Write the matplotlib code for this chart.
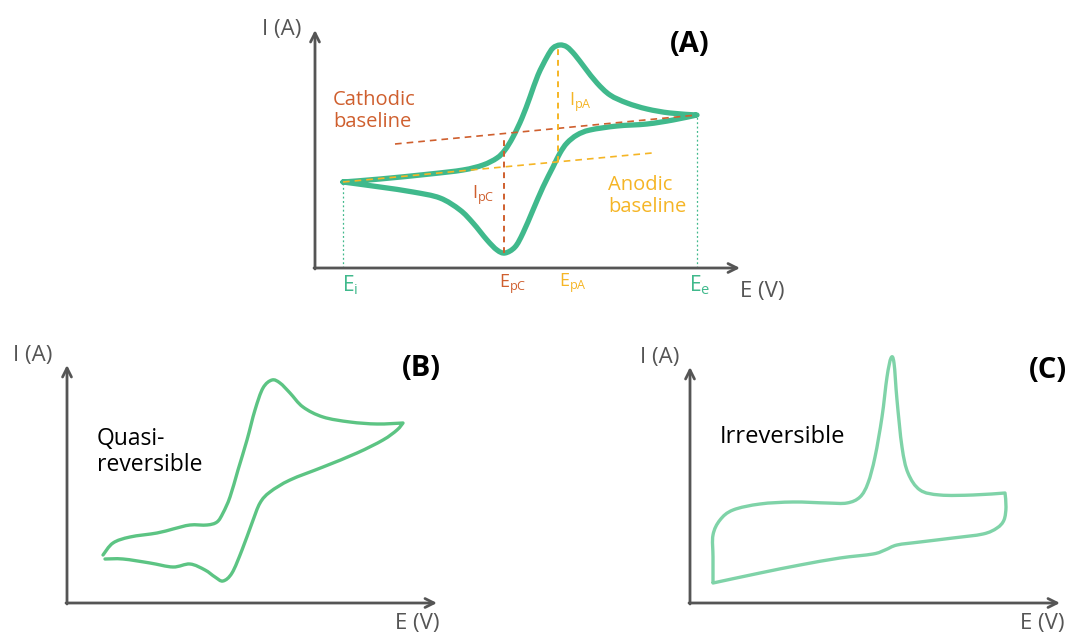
import matplotlib.pyplot as plt
from matplotlib.path import Path
from matplotlib.patches import PathPatch

plt.rcParams['font.family'] = ['Open Sans', 'DejaVu Sans']

# ---------- data (E / I in arbitrary units) ----------
# panel A: reversible CV
a_fwd_E = [28, 65, 115, 148, 168, 182, 190, 198, 207, 215, 223, 232, 238, 245,
           252, 260, 270, 282, 295, 312, 332, 355, 382]
a_fwd_I = [86, 89, 94, 98, 103, 110, 118, 131, 150, 171, 193, 211, 220, 223,
           221, 213, 200, 185, 173, 165, 159, 155, 153]
a_rev_E = [358, 332, 302, 275, 262, 252, 245, 238, 228, 218, 208, 200, 190,
           182, 172, 158, 145, 125, 98, 65, 28]
a_rev_I = [148, 144, 142, 138, 133, 125, 115, 101, 81, 58, 35, 21, 15,
           18, 28, 45, 58, 70, 76, 81, 86]

cath_base_E = [80, 382]
cath_base_I = [124, 153]
anod_base_E = [28, 337]
anod_base_I = [86, 115]

E_i, E_e = 28, 382
E_pC, I_pC_low, I_pC_high = 189, 15, 132
E_pA, I_pA_low, I_pA_high = 243, 106, 223

# panel B: quasi-reversible CV
b_fwd_E = [36, 46, 63, 90, 106, 123, 140, 150, 156, 163, 171, 180, 188, 196, 205,
           213, 223, 236, 256, 283, 310, 336]
b_fwd_I = [48, 60, 66, 70, 74, 78, 78, 81, 90, 106, 133, 163, 193, 215, 223,
           220, 210, 196, 186, 181, 179, 180]
b_rev_E = [330, 316, 290, 256, 223, 203, 193, 185, 175, 165, 156, 148, 138,
           123, 106, 83, 56, 38]
b_rev_I = [173, 163, 150, 136, 123, 111, 100, 80, 53, 30, 22, 26, 33,
           39, 36, 40, 44, 44]

# panel C: irreversible CV
c_fwd_E = [23, 23, 23, 30, 43, 70, 103, 137, 157, 170, 178, 185, 192, 197, 201,
           204, 207, 212, 218, 230, 250, 283, 315]
c_fwd_I = [21, 46, 68, 83, 93, 99, 101, 100, 100, 106, 120, 146, 186, 226, 245,
           240, 203, 156, 130, 113, 108, 108, 110]
c_rev_E = [316, 314, 307, 293, 263, 230, 207, 195, 183, 150, 110, 70, 23]
c_rev_I = [96, 83, 75, 69, 65, 61, 58, 53, 49, 45, 38, 30, 20]

# ---------- style ----------
GREEN_A = '#40b98c'
GREEN_B = '#5cc483'
GREEN_C = '#7fd3a8'
RED = '#cf5f2e'
YELLOW = '#f5b525'
GRAY = '#555555'

W, H = 1075, 635
fig = plt.figure(figsize=(W / 100, H / 100), dpi=100)


def make_panel(left, top, right, bottom, ox, oy):
    # axes placed in a pixel box, data units = pixels from the origin
    ax = fig.add_axes([left / W, 1 - bottom / H, (right - left) / W, (bottom - top) / H])
    ax.set_xlim(left - ox, right - ox)
    ax.set_ylim(oy - bottom, oy - top)
    ax.axis('off')
    return ax


def draw_axes(ax, x_end, y_end):
    arrow = dict(arrowstyle='->', color=GRAY, lw=2.0, mutation_scale=16,
                 shrinkA=0, shrinkB=0)
    ax.annotate('', xy=(0, y_end), xytext=(0, -1), arrowprops=arrow)
    ax.annotate('', xy=(x_end, 0), xytext=(-1, 0), arrowprops=arrow)


def draw_cv(ax, E, I, color, lw, corners=()):
    # smooth bezier path through the read points (catmull-rom style handles);
    # indices in `corners` keep a sharp turn
    pts = list(zip(E, I))
    verts = [pts[0]]
    codes = [Path.MOVETO]
    n = len(pts)
    for k in range(n - 1):
        p0 = pts[k - 1] if k > 0 and k not in corners else pts[k]
        p1 = pts[k]
        p2 = pts[k + 1]
        p3 = pts[k + 2] if k + 2 < n and (k + 1) not in corners else pts[k + 1]
        c1 = (p1[0] + (p2[0] - p0[0]) / 6, p1[1] + (p2[1] - p0[1]) / 6)
        c2 = (p2[0] - (p3[0] - p1[0]) / 6, p2[1] - (p3[1] - p1[1]) / 6)
        verts += [c1, c2, p2]
        codes += [Path.CURVE4] * 3
    ax.add_patch(PathPatch(Path(verts, codes), fill=False, edgecolor=color, lw=lw,
                           joinstyle='round', capstyle='round'))


# =========================
# Panel A
# =========================
axA = make_panel(255, 10, 800, 310, 315, 268)
draw_axes(axA, 425, 238)

axA.plot(cath_base_E, cath_base_I, color=RED, lw=1.2, ls=(0, (4, 3)))
axA.plot(anod_base_E, anod_base_I, color=YELLOW, lw=1.2, ls=(0, (4, 3)))
axA.plot([E_pC, E_pC], [I_pC_low, I_pC_high], color=RED, lw=1.4, ls=(0, (3, 2.5)))
axA.plot([E_pA, E_pA], [I_pA_low, I_pA_high], color=YELLOW, lw=1.4, ls=(0, (3, 2.5)))
axA.plot([E_i, E_i], [0, a_fwd_I[0]], color=GREEN_A, lw=0.9, ls=(0, (1.5, 2)))
axA.plot([E_e, E_e], [0, a_fwd_I[-1]], color=GREEN_A, lw=0.9, ls=(0, (1.5, 2)))

draw_cv(axA, a_fwd_E + a_rev_E, a_fwd_I + a_rev_I, GREEN_A, 3.8,
        corners=(len(a_fwd_E) - 1,))

axA.text(-33, 238, 'I (A)', color=GRAY, fontsize=16, ha='center', va='center')
axA.text(375, 224, '(A)', color='black', fontsize=21, fontweight='bold',
         ha='center', va='center')
axA.text(18, 157, 'Cathodic\nbaseline', color=RED, fontsize=14.5, ha='left',
         va='center', linespacing=1.1)
axA.text(293, 72, 'Anodic\nbaseline', color=YELLOW, fontsize=14.5, ha='left',
         va='center', linespacing=1.1)
axA.text(157, 73, r'I$_\mathregular{pC}$', color=RED, fontsize=13, ha='left', va='center')
axA.text(254, 166, r'I$_\mathregular{pA}$', color=YELLOW, fontsize=13, ha='left', va='center')

axA.text(E_i + 7, -17, r'E$_\mathregular{i}$', color=GREEN_A, fontsize=15, ha='center', va='center')
axA.text(E_pC + 9, -16, r'E$_\mathregular{pC}$', color=RED, fontsize=13, ha='center', va='center')
axA.text(E_pA + 15, -15, r'E$_\mathregular{pA}$', color=YELLOW, fontsize=13, ha='center', va='center')
axA.text(E_e + 3, -17, r'E$_\mathregular{e}$', color=GREEN_A, fontsize=15, ha='center', va='center')
axA.text(447, -24, 'E (V)', color=GRAY, fontsize=16, ha='center', va='center')

# =========================
# Panel B
# =========================
axB = make_panel(0, 335, 470, 635, 67, 603)
draw_axes(axB, 370, 238)
draw_cv(axB, b_fwd_E + b_rev_E, b_fwd_I + b_rev_I, GREEN_B, 2.4,
        corners=(len(b_fwd_E) - 1,))
axB.text(-34, 248, 'I (A)', color=GRAY, fontsize=16, ha='center', va='center')
axB.text(354, 235, '(B)', color='black', fontsize=21, fontweight='bold',
         ha='center', va='center')
axB.text(30, 151, 'Quasi-\nreversible', color='black', fontsize=16.5, ha='left',
         va='center', linespacing=1.1)
axB.text(350, -21, 'E (V)', color=GRAY, fontsize=16, ha='center', va='center')

# =========================
# Panel C
# =========================
axC = make_panel(620, 335, 1075, 635, 690, 603)
draw_axes(axC, 370, 236)
draw_cv(axC, c_fwd_E + c_rev_E, c_fwd_I + c_rev_I, GREEN_C, 2.4,
        corners=(len(c_fwd_E) - 1,))
axC.text(-30, 246, 'I (A)', color=GRAY, fontsize=16, ha='center', va='center')
axC.text(358, 233, '(C)', color='black', fontsize=21, fontweight='bold',
         ha='center', va='center')
axC.text(30, 166, 'Irreversible', color='black', fontsize=17, ha='left', va='center')
axC.text(352, -21, 'E (V)', color=GRAY, fontsize=16, ha='center', va='center')

fig.savefig('out.png', dpi=100)
